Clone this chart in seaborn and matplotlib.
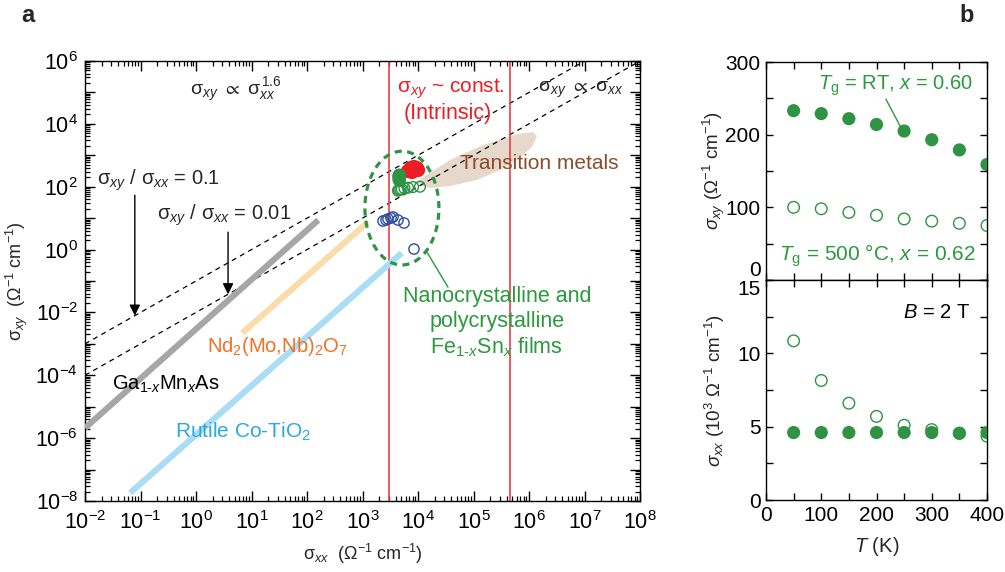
import numpy as np
import matplotlib
matplotlib.use("Agg")
import matplotlib.pyplot as plt
import seaborn as sns
from matplotlib.ticker import FixedLocator, FuncFormatter, MultipleLocator, NullFormatter

# ---------------- data ----------------
# panel b
T_K = [50, 100, 150, 200, 250, 300, 350, 400]
sxy_RT = [233, 229, 222, 214, 205, 193, 179, 159]          # Ohm^-1 cm^-1
sxy_500 = [100, 98, 93, 89, 84, 81, 78, 75]
sxx_RT = [4.6, 4.6, 4.6, 4.6, 4.6, 4.6, 4.55, 4.6]          # 10^3 Ohm^-1 cm^-1
sxx_500 = [10.85, 8.15, 6.6, 5.7, 5.1, 4.8, 4.55, 4.35]

# panel a
red_sxx = [6600, 7480, 8470, 9600, 10000, 7800]
red_sxy = [316, 394, 425, 394, 340, 294]
blue_sxx = [2340, 2650, 2880, 3260, 3550, 4360, 5600, 8470]
blue_sxy = [8.1, 8.7, 9.4, 10.1, 10.9, 8.7, 7.0, 1.04]

ga_sxx = [1e-2, 160]
ga_sxy = [2.1e-6, 8.7]
nd_sxx = [6.8, 1260]
nd_sxy = [2.2e-3, 7.6]
co_sxx = [0.065, 5100]
co_sxy = [1.8e-8, 0.78]

ratio_values = [0.1, 0.01]
ratio_sxx_range = [1e-2, 1e8]
intrinsic_bounds = [3e3, 4.5e5]

tm_sxx = [8830, 11800, 37800, 148000, 608000, 1.18e6, 1.39e6, 1.13e6, 608000,
          300000, 116000, 37800, 16400]
tm_sxy = [131, 189, 708, 2120, 4750, 5510, 4110, 1840, 708, 340, 164, 105, 91]

# dashed ellipse around Fe1-xSnx data (log10 centre and half-widths in decades)
ell_center = (3.71, 1.32)
ell_half = (0.667, 1.81)

x_decades = list(range(-2, 9))
y_decades = list(range(-8, 7))

# ---------------- style ----------------
sns.set_theme(style="ticks")
plt.rcParams['font.family'] = ['Liberation Sans', 'DejaVu Sans']
plt.rcParams['mathtext.fontset'] = 'custom'
plt.rcParams['mathtext.rm'] = 'Liberation Sans'
plt.rcParams['mathtext.it'] = 'Liberation Sans:italic'
plt.rcParams['mathtext.bf'] = 'Liberation Sans:bold'
plt.rcParams['mathtext.fallback'] = 'stixsans'
plt.rcParams['axes.linewidth'] = 1.0
plt.rcParams['axes.edgecolor'] = 'black'
plt.rcParams['xtick.color'] = 'black'
plt.rcParams['ytick.color'] = 'black'

GREEN = '#2e9444'
GREEN_T = '#2a9a3c'
RED = '#ee1c25'
REDLINE = '#e8404a'
BLUE = '#2b4ea2'
BROWN = '#8c4b2a'
TAN = '#e6d9cc'
ORANGE_T = '#f36f21'
BLUE_T = '#27aae1'

fig = plt.figure(figsize=(10.05, 5.72), dpi=100)
W, H = 1005, 572

def box(l, r, t, b):
    return [l / W, 1 - b / H, (r - l) / W, (b - t) / H]

# ================= panel a =================
ax = fig.add_axes(box(85, 640, 61, 501))
ax.set_xscale('log')
ax.set_yscale('log')
ax.set_xlim(1e-2, 1e8)
ax.set_ylim(1e-8, 1e6)

# transition-metal region
ax.fill(tm_sxx, tm_sxy, color=TAN, lw=0, zorder=1)

# ratio reference lines
for r in ratio_values:
    xs = np.array(ratio_sxx_range)
    ax.plot(xs, r * xs, color='black', lw=0.9, ls=(0, (4, 3.5)), zorder=2)

# intrinsic bounds
for xb in intrinsic_bounds:
    ax.axvline(xb, color=REDLINE, lw=1.2, zorder=2)

# material lines
sns.lineplot(x=ga_sxx, y=ga_sxy, ax=ax, color='#a6a6a6', lw=4.4, solid_capstyle='butt', zorder=3)
sns.lineplot(x=nd_sxx, y=nd_sxy, ax=ax, color='#f9dcaa', lw=4.4, solid_capstyle='butt', zorder=3)
sns.lineplot(x=co_sxx, y=co_sxy, ax=ax, color='#a9dcf5', lw=4.4, solid_capstyle='butt', zorder=3)

# data points
sns.scatterplot(x=red_sxx, y=red_sxy, ax=ax, color=RED, s=105, edgecolor='none', zorder=5)
sns.scatterplot(x=[v * 1000 for v in sxx_RT], y=sxy_RT, ax=ax, color=GREEN, s=90,
                edgecolor='none', zorder=6)
sns.scatterplot(x=[v * 1000 for v in sxx_500], y=sxy_500, ax=ax, s=60, marker='o',
                facecolor='none', edgecolor=GREEN, linewidth=1.0, zorder=7)
sns.scatterplot(x=blue_sxx, y=blue_sxy, ax=ax, s=55, marker='o',
                facecolor='none', edgecolor=BLUE, linewidth=1.0, zorder=7)

# dashed ellipse
t = np.linspace(0, 2 * np.pi, 300)
ex = 10 ** (ell_center[0] + ell_half[0] * np.cos(t))
ey = 10 ** (ell_center[1] + ell_half[1] * np.sin(t))
ax.plot(ex, ey, color=GREEN, lw=2.3, ls=(0, (2.2, 1.7)), zorder=8)

# ticks
ax.xaxis.set_major_locator(FixedLocator([10.0 ** d for d in x_decades]))
ax.yaxis.set_major_locator(FixedLocator([10.0 ** d for d in y_decades]))
ax.xaxis.set_minor_locator(FixedLocator([m * 10.0 ** d for d in x_decades[:-1] for m in range(2, 10)]))
ax.yaxis.set_minor_locator(FixedLocator([m * 10.0 ** d for d in y_decades[:-1] for m in range(2, 10)]))
ax.xaxis.set_major_formatter(FuncFormatter(lambda v, p: r"$10^{%d}$" % round(np.log10(v))))
ax.yaxis.set_major_formatter(FuncFormatter(
    lambda v, p: (r"$10^{%d}$" % round(np.log10(v))) if round(np.log10(v)) % 2 == 0 else ""))
ax.xaxis.set_minor_formatter(NullFormatter())
ax.yaxis.set_minor_formatter(NullFormatter())
ax.tick_params(which='both', direction='in', top=True, right=True, bottom=True, left=True,
               labelsize=15.5, color='black')
ax.tick_params(axis='x', which='major', pad=7)
ax.tick_params(axis='y', which='major', pad=5)
ax.tick_params(which='major', length=7, width=1.0)
ax.tick_params(which='minor', length=3.8, width=0.9)

ax.set_xlabel(r"$\mathrm{\sigma}_{xx}$  (Ω$^{-1}$ cm$^{-1}$)", fontsize=13)
ax.set_ylabel(r"$\mathrm{\sigma}_{xy}$  (Ω$^{-1}$ cm$^{-1}$)", fontsize=13)
ax.xaxis.set_label_coords(0.5, -0.094)
ax.yaxis.set_label_coords(-0.099, 0.5)

# annotations
ax.text(0.189, 0.934, r"$\mathrm{\sigma}_{xy}$ $\propto$ $\mathrm{\sigma}_{xx}^{\,1.6}$",
        transform=ax.transAxes, fontsize=14, ha='left', va='center')
ax.text(0.660, 0.937, r"$\mathrm{\sigma}_{xy}$ ~ const.", transform=ax.transAxes,
        fontsize=15, color=RED, ha='center', va='center')
ax.text(0.653, 0.880, "(Intrinsic)", transform=ax.transAxes,
        fontsize=15.5, color=RED, ha='center', va='center')
ax.text(0.816, 0.934, r"$\mathrm{\sigma}_{xy}$ $\propto$ $\mathrm{\sigma}_{xx}$",
        transform=ax.transAxes, fontsize=14, ha='left', va='center')
ax.text(0.022, 0.730, r"$\mathrm{\sigma}_{xy}$ / $\mathrm{\sigma}_{xx}$ = 0.1",
        transform=ax.transAxes, fontsize=14.5, ha='left', va='center')
ax.text(0.130, 0.650, r"$\mathrm{\sigma}_{xy}$ / $\mathrm{\sigma}_{xx}$ = 0.01",
        transform=ax.transAxes, fontsize=14.5, ha='left', va='center')
arrow_x = [0.079, 3.78]
arrow_from = [0.695, 0.611]
for xa, yf, r in zip(arrow_x, arrow_from, ratio_values):
    ax.annotate("", xy=(xa, r * xa), xycoords='data',
                xytext=(np.log10(xa) / 10 + 0.2, yf), textcoords='axes fraction',
                arrowprops=dict(arrowstyle='-|>', color='black', lw=1.0,
                                mutation_scale=16, shrinkA=0, shrinkB=0))
ax.text(0.676, 0.768, "Transition metals", transform=ax.transAxes, fontsize=15,
        color=BROWN, ha='left', va='center')
ax.text(0.220, 0.350, r"Nd$_2$(Mo,Nb)$_2$O$_7$", transform=ax.transAxes, fontsize=14.5,
        color=ORANGE_T, ha='left', va='center')
ax.text(0.049, 0.266, r"Ga$_{1\text{-}x}$Mn$_x$As", transform=ax.transAxes, fontsize=14.5,
        color='black', ha='left', va='center')
ax.text(0.162, 0.157, r"Rutile Co-TiO$_2$", transform=ax.transAxes, fontsize=15,
        color=BLUE_T, ha='left', va='center')
ax.text(0.742, 0.464, "Nanocrystalline and", transform=ax.transAxes, fontsize=15.5,
        color=GREEN_T, ha='center', va='center')
ax.text(0.742, 0.407, "polycrystalline", transform=ax.transAxes, fontsize=15.5,
        color=GREEN_T, ha='center', va='center')
ax.text(0.742, 0.350, r"Fe$_{1\text{-}x}$Sn$_x$ films", transform=ax.transAxes, fontsize=15.5,
        color=GREEN_T, ha='center', va='center')
ax.plot([0.616, 0.654], [0.566, 0.486], transform=ax.transAxes, color=GREEN_T, lw=1.0, zorder=9)

# ================= panel b =================
axu = fig.add_axes(box(766, 987, 62, 280))
axl = fig.add_axes(box(766, 987, 280, 500))

sns.scatterplot(x=T_K, y=sxy_RT, ax=axu, color=GREEN, s=90, edgecolor='none', zorder=5)
sns.scatterplot(x=T_K, y=sxy_500, ax=axu, s=70, marker='o', facecolor='none',
                edgecolor=GREEN, linewidth=1.0, zorder=5)
sns.scatterplot(x=T_K, y=sxx_500, ax=axl, s=70, marker='o', facecolor='none',
                edgecolor=GREEN, linewidth=1.0, zorder=5)
sns.scatterplot(x=T_K, y=sxx_RT, ax=axl, color=GREEN, s=90, edgecolor='none', zorder=6)

for a in (axu, axl):
    a.set_xlim(0, 400)
    a.xaxis.set_major_locator(MultipleLocator(100))
    a.xaxis.set_minor_locator(MultipleLocator(50))
    a.tick_params(which='both', direction='in', top=True, right=True, bottom=True, left=True,
                  labelsize=15, length=5, width=1.0, pad=4, color='black')
axu.set_ylim(0, 300)
axu.yaxis.set_major_locator(FixedLocator([0, 100, 200, 300]))
axu.yaxis.set_minor_locator(MultipleLocator(50))
axu.tick_params(labelbottom=False)
axl.set_ylim(0, 15)
axl.yaxis.set_major_locator(FixedLocator([0, 5, 10, 15]))
axl.yaxis.set_minor_locator(MultipleLocator(2.5))
axu.set_xlabel("")
axl.set_xlabel(r"$T$ (K)", fontsize=14.5)
axl.xaxis.set_label_coords(0.5, -0.16)
axu.set_ylabel(r"$\sigma_{xy}$ (Ω$^{-1}$ cm$^{-1}$)", fontsize=13.5)
axl.set_ylabel(r"$\sigma_{xx}$ (10$^3$ Ω$^{-1}$ cm$^{-1}$)", fontsize=13.5)
axu.yaxis.set_label_coords(-0.175, 0.5)
axl.yaxis.set_label_coords(-0.175, 0.5)

fig.canvas.draw()
for lab in axu.get_yticklabels():
    if lab.get_text() in ("0", "$\\mathdefault{0}$"):
        lab.set_va('bottom')
for lab in axl.get_yticklabels():
    if lab.get_text() in ("15", "$\\mathdefault{15}$"):
        lab.set_va('top')

axu.text(94, 268, r"$T_{\mathrm{g}}$ = RT, $x$ = 0.60", fontsize=14.5, color=GREEN_T,
         ha='left', va='center')
axu.text(24, 34, r"$T_{\mathrm{g}}$ = 500 °C, $x$ = 0.62", fontsize=15, color=GREEN_T,
         ha='left', va='center')
axu.plot([217, 244], [249, 210], color=GREEN_T, lw=1.0)
axl.text(248, 12.8, r"$B$ = 2 T", fontsize=14.5, color='black', ha='left', va='center')

fig.text(28 / W, 1 - 15 / H, "a", fontsize=17, fontweight='bold', ha='center', va='center')
fig.text(967 / W, 1 - 15 / H, "b", fontsize=17, fontweight='bold', ha='center', va='center')

fig.savefig("out.png", dpi=100)
